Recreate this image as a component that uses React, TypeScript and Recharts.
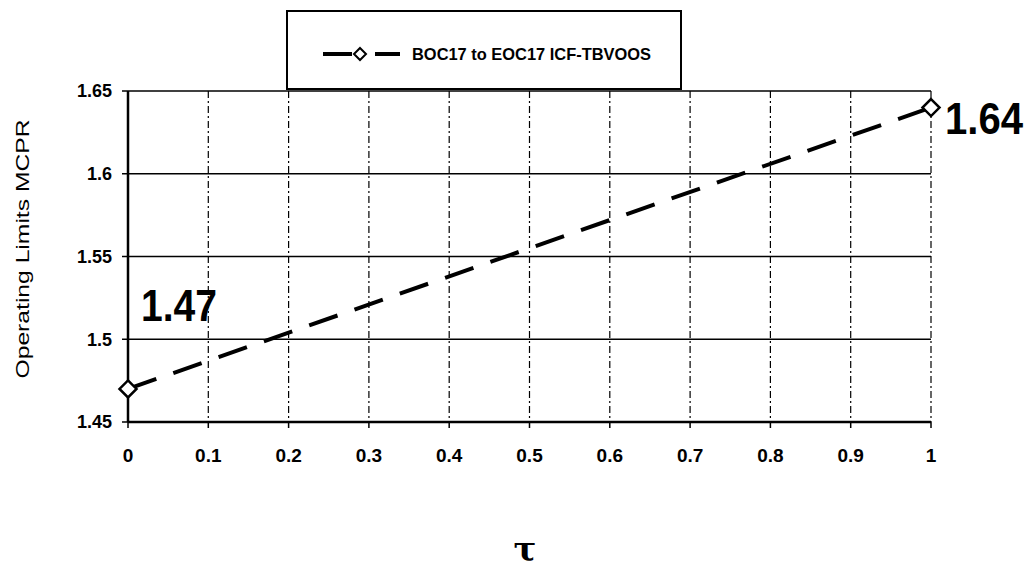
import {
  LineChart,
  Line,
  XAxis,
  YAxis,
  CartesianGrid,
} from "recharts";

const tauValues = [0, 1];
const mcprValues = [1.47, 1.64];
const xTicks = [0, 0.1, 0.2, 0.3, 0.4, 0.5, 0.6, 0.7, 0.8, 0.9, 1];
const yTicks = [1.45, 1.5, 1.55, 1.6, 1.65];
const seriesName = "BOC17 to EOC17 ICF-TBVOOS";

const data = tauValues.map((t, i) => ({ tau: t, mcpr: mcprValues[i] }));

const font = "'Liberation Sans', Arial, sans-serif";

function Diamond(props: any) {
  const { cx, cy } = props;
  if (cx == null || cy == null) return null;
  const r = 8.5;
  return (
    <path
      d={`M${cx},${cy - r} L${cx + r},${cy} L${cx},${cy + r} L${cx - r},${cy} Z`}
      fill="#fff"
      stroke="#000"
      strokeWidth={2.5}
    />
  );
}

function PointLabel(props: any) {
  const { x, y, value, index } = props;
  const first = index === 0;
  return (
    <text
      x={first ? x + 13 : x + 14}
      y={first ? y - 68 : y + 26}
      fontFamily={font}
      fontWeight="bold"
      fontSize={44}
      fill="#000"
      textAnchor="start"
      textLength={first ? 76 : 78}
      lengthAdjust="spacingAndGlyphs"
    >
      {value.toFixed(2)}
    </text>
  );
}

function LegendBox() {
  return (
    <div
      style={{
        position: "absolute",
        left: 286,
        top: 10,
        width: 396,
        height: 80,
        border: "2px solid #000",
        background: "#fff",
        boxSizing: "border-box",
      }}
    >
      <svg width={392} height={76} style={{ position: "absolute", left: 0, top: 0 }}>
        <line x1={35} y1={42} x2={64} y2={42} stroke="#000" strokeWidth={4} />
        <path d="M72,36 L78,42 L72,48 L66,42 Z" fill="#fff" stroke="#000" strokeWidth={2} />
        <line x1={87} y1={42} x2={112} y2={42} stroke="#000" strokeWidth={4} />
        <text
          x={124}
          y={48}
          fontFamily={font}
          fontWeight="bold"
          fontSize={16.5}
          fill="#000"
          textLength={239}
          lengthAdjust="spacingAndGlyphs"
        >
          {seriesName}
        </text>
      </svg>
    </div>
  );
}

function App() {
  return (
    <div style={{ position: "absolute", left: 0, top: 0, width: 1032, height: 572, background: "#fff", overflow: "hidden" }}>
      <LineChart
        width={1032}
        height={572}
        data={data}
        margin={{ top: 91, right: 101, bottom: 120, left: 68 }}
      >
        <CartesianGrid horizontal={true} vertical={false} stroke="#000" strokeWidth={1.5} />
        <CartesianGrid
          horizontal={false}
          vertical={true}
          stroke="#000"
          strokeWidth={1.2}
          strokeDasharray="7 3 2 3"
        />
        <XAxis
          dataKey="tau"
          type="number"
          domain={[0, 1]}
          ticks={xTicks}
          height={30}
          axisLine={{ stroke: "#000", strokeWidth: 2.5 }}
          tickLine={{ stroke: "#000", strokeWidth: 1.5 }}
          tickSize={6}
          tick={{ fill: "#000", fontFamily: font, fontWeight: "bold", fontSize: 19, dy: 19 }}
          tickFormatter={(v: number) => String(v)}
        />
        <YAxis
          type="number"
          domain={[1.45, 1.65]}
          ticks={yTicks}
          width={60}
          axisLine={{ stroke: "#000", strokeWidth: 2.5 }}
          tickLine={{ stroke: "#000", strokeWidth: 1.5 }}
          tickSize={6}
          tick={{ fill: "#000", fontFamily: font, fontWeight: "bold", fontSize: 18, dx: -8 }}
          tickFormatter={(v: number) => String(Number(v.toFixed(2)))}
        />
        <YAxis
          yAxisId="right"
          orientation="right"
          domain={[1.45, 1.65]}
          width={0}
          tick={false}
          tickLine={false}
          axisLine={{ stroke: "#000", strokeWidth: 2.5 }}
        />
        <Line
          name={seriesName}
          dataKey="mcpr"
          stroke="#000"
          strokeWidth={4}
          strokeDasharray="30 18"
          dot={<Diamond />}
          activeDot={false}
          label={<PointLabel />}
          isAnimationActive={false}
        />
      </LineChart>
      <LegendBox />
      <div style={{ position: "absolute", left: 23, top: 249, width: 0, height: 0 }}>
        <div
          style={{
            position: "absolute",
            transform: "translate(-50%, -50%) rotate(-90deg) scaleX(1.37)",
            whiteSpace: "nowrap",
            fontFamily: font,
            fontSize: 18,
            color: "#000",
          }}
        >
          Operating Limits MCPR
        </div>
      </div>
      <div
        style={{
          position: "absolute",
          left: 505,
          top: 530,
          width: 40,
          height: 38,
          textAlign: "center",
          fontFamily: "'DejaVu Serif', serif",
          fontWeight: "bold",
          fontSize: 34,
          lineHeight: "38px",
        }}
      >
        τ
      </div>
    </div>
  );
}

export default App;
